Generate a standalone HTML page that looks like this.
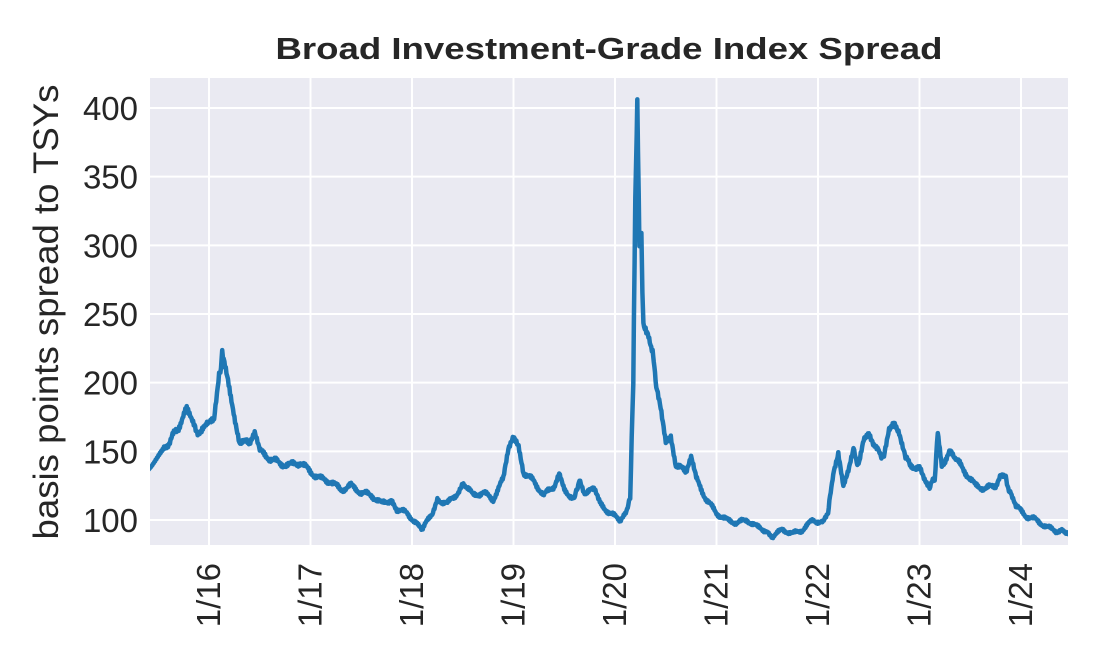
<!DOCTYPE html>
<html><head><meta charset="utf-8"><style>
body{margin:0;background:#fff;}
svg{display:block;font-family:"Liberation Sans",Arial,sans-serif;}
</style></head><body>
<svg id="s" width="1100" height="660" viewBox="0 0 1100 660">
<rect x="150" y="78" width="918" height="467" fill="#eaeaf2"/>
<g id="grid" stroke="#fff" stroke-width="2"></g>
<g id="lab" fill="#262626" font-size="33"></g>
<text x="609" y="59" text-anchor="middle" font-size="31" font-weight="bold" fill="#262626" textLength="667" lengthAdjust="spacingAndGlyphs">Broad Investment-Grade Index Spread</text>
<text transform="translate(58,312) rotate(-90)" text-anchor="middle" font-size="35" fill="#262626" textLength="455" lengthAdjust="spacingAndGlyphs">basis points spread to TSYs</text>
<clipPath id="c"><rect x="150" y="78" width="918" height="467"/></clipPath>
<polyline id="ln" clip-path="url(#c)" fill="none" stroke="#1f77b4" stroke-width="4.5" stroke-linejoin="round"/>
</svg>
<script>
const NS="http://www.w3.org/2000/svg";
const g=document.getElementById('grid'),lab=document.getElementById('lab');
const Y=v=>520-(v-100)*1.3733, X=t=>209+(t-2016)*101.5;
function el(p,tag,a,txt){const e=document.createElementNS(NS,tag);for(const k in a)e.setAttribute(k,a[k]);if(txt)e.textContent=txt;p.appendChild(e);}
for(let v=100;v<=400;v+=50){el(g,'line',{x1:150,x2:1068,y1:Y(v),y2:Y(v)});el(lab,'text',{x:138,y:Y(v)+12,'text-anchor':'end'},v);}
for(let y=16;y<=24;y++){const x=X(2000+y);el(g,'line',{x1:x,x2:x,y1:78,y2:545});el(lab,'text',{transform:`translate(${x+11},563) rotate(-90)`,'text-anchor':'end'},'1/'+y);}
const d=[[2015.4,138],[2015.55,150],[2015.7,168],[2015.78,180],[2015.85,168],[2015.92,162],[2015.98,172],[2016.05,175],[2016.1,205],[2016.13,220],[2016.18,205],[2016.25,175],[2016.3,158],[2016.4,155],[2016.45,162],[2016.5,150],[2016.6,145],[2016.7,141],[2016.8,140],[2016.9,142],[2017,135],[2017.1,130],[2017.2,128],[2017.3,122],[2017.4,125],[2017.5,120],[2017.6,118],[2017.7,112],[2017.8,115],[2017.85,108],[2017.95,105],[2018.05,97],[2018.1,93],[2018.2,105],[2018.25,115],[2018.35,112],[2018.45,120],[2018.5,128],[2018.6,118],[2018.7,120],[2018.8,115],[2018.9,130],[2018.95,150],[2019,160],[2019.05,155],[2019.1,135],[2019.2,128],[2019.3,118],[2019.4,125],[2019.45,135],[2019.5,122],[2019.6,115],[2019.65,130],[2019.7,120],[2019.8,122],[2019.85,112],[2019.95,105],[2020.05,100],[2020.1,105],[2020.15,115],[2020.18,200],[2020.2,330],[2020.22,400],[2020.24,300],[2020.26,310],[2020.27,265],[2020.28,245],[2020.33,235],[2020.37,225],[2020.4,200],[2020.45,180],[2020.5,155],[2020.55,160],[2020.6,140],[2020.7,135],[2020.75,145],[2020.8,130],[2020.9,115],[2021,105],[2021.1,100],[2021.2,98],[2021.3,100],[2021.4,95],[2021.5,92],[2021.55,88],[2021.65,93],[2021.75,90],[2021.85,93],[2021.95,100],[2022.05,98],[2022.1,105],[2022.15,135],[2022.2,150],[2022.25,125],[2022.3,135],[2022.35,150],[2022.4,140],[2022.45,160],[2022.5,165],[2022.55,155],[2022.6,150],[2022.65,145],[2022.7,165],[2022.75,172],[2022.8,165],[2022.85,150],[2022.9,140],[2023,138],[2023.05,130],[2023.1,125],[2023.15,130],[2023.18,162],[2023.22,140],[2023.3,150],[2023.35,145],[2023.45,135],[2023.55,125],[2023.65,123],[2023.75,125],[2023.8,133],[2023.85,130],[2023.9,118],[2023.95,110],[2024.05,103],[2024.15,100],[2024.25,95],[2024.35,92],[2024.5,91]];
let pts=[];
for(let i=0;i<d.length-1;i++){const [t0,v0]=d[i],[t1,v1]=d[i+1];const n=Math.max(1,Math.round((t1-t0)*150));
for(let k=0;k<n;k++){const t=t0+(t1-t0)*k/n;let v=v0+(v1-v0)*k/n;v+=(Math.sin(t*900)+Math.sin(t*2300)*0.6)*v*0.012;pts.push(X(t).toFixed(1)+','+Y(v).toFixed(1));}}
pts.push(X(2024.5)+','+Y(91));
document.getElementById('ln').setAttribute('points',pts.join(' '));
</script>
</body></html>
